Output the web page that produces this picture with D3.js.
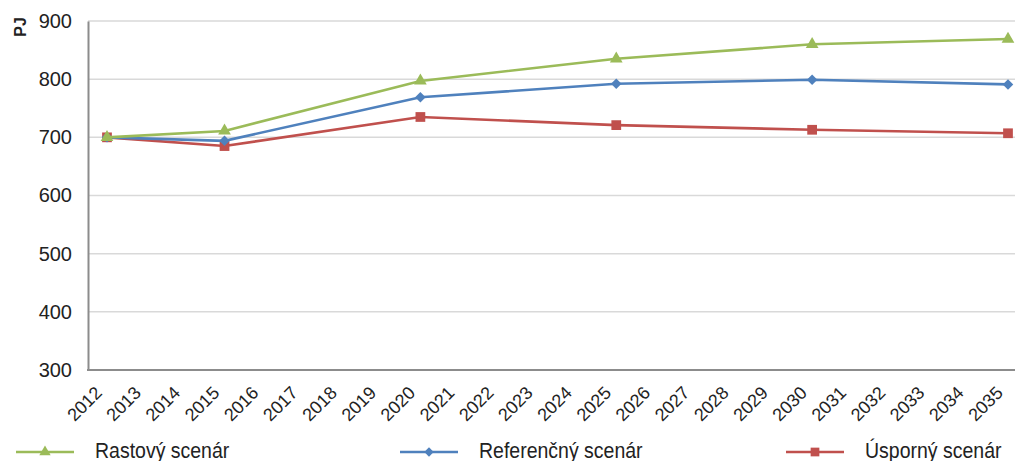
<!DOCTYPE html>
<html><head><meta charset="utf-8">
<script src="https://cdn.jsdelivr.net/npm/d3@7"></script>
<style>body{margin:0;background:#fff;}svg{display:block;font-family:"Liberation Sans",Arial,sans-serif;}</style>
</head><body>
<svg id="c" width="1015" height="461"></svg>
<script>
const years = d3.range(2012, 2036).map(String);
const yTicks = [300, 400, 500, 600, 700, 800, 900];
const dataYears = ["2012","2015","2020","2025","2030","2035"];
const rastovy = [700, 711, 797, 835, 860, 869];
const referencny = [700, 694, 769, 792, 799, 791];
const usporny = [700, 685, 735, 721, 713, 707];
const seriesNames = ["Rastový scenár", "Referenčný scenár", "Úsporný scenár"];
const colors = ["#9BBB59", "#4F81BD", "#C0504D"];
const symbols = [d3.symbolTriangle, d3.symbolSquare, d3.symbolSquare];
const symRot = [0, 45, 0];
const symSizes = [70, 55, 95];

const svg = d3.select("#c");
const mLeft = 88, mTop = 21, mBottom = 370, mRight = 1030;
const x = d3.scalePoint().domain(years).range([107, 1008]);
const y = d3.scaleLinear().domain([300, 900]).range([mBottom, mTop]);

// gridlines
svg.append("g").selectAll("line").data(yTicks.filter(d => d > 300)).join("line")
  .attr("x1", mLeft).attr("x2", mRight).attr("y1", d => y(d)).attr("y2", d => y(d))
  .attr("stroke", "#d9d9d9").attr("stroke-width", 1.5);

// axes
const yAxis = d3.axisLeft(y).tickValues(yTicks).tickSize(0).tickPadding(16);
const gy = svg.append("g").attr("transform", `translate(${mLeft},0)`).call(yAxis);
gy.select(".domain").attr("stroke", "#8c8c8c").attr("stroke-width", 2);
gy.selectAll("text").attr("font-size", 20).attr("fill", "#222").attr("font-family", "Liberation Sans, Arial, sans-serif");

const gx = svg.append("g").attr("transform", `translate(0,${mBottom})`);
gx.append("line").attr("x1", mLeft - 1).attr("x2", mRight).attr("stroke", "#8c8c8c").attr("stroke-width", 2);
gx.selectAll("text").data(years).join("text")
  .attr("transform", d => `translate(${x(d) - 4},${24}) rotate(-45)`)
  .attr("text-anchor", "end")
  .attr("font-size", 18).attr("fill", "#222").text(d => d);

// y title
svg.append("text").attr("transform", "translate(26,27) rotate(-90)")
  .attr("text-anchor", "middle").attr("font-weight", "bold").attr("font-size", 16)
  .attr("fill", "#222").text("PJ");

// series (drawn so green ends on top)
const allSeries = [rastovy, referencny, usporny];
const line = d3.line().x(d => x(d.year)).y(d => y(d.v));
[2, 1, 0].forEach(i => {
  const vals = allSeries[i];
  const pts = dataYears.map((yr, j) => ({year: yr, v: vals[j]}));
  const g = svg.append("g");
  g.append("path").datum(pts).attr("d", line).attr("fill", "none")
    .attr("stroke", colors[i]).attr("stroke-width", 2.6);
  g.selectAll("path.m").data(pts).join("path").attr("class", "m")
    .attr("transform", d => `translate(${x(d.year)},${y(d.v)}) rotate(${symRot[i]})`)
    .attr("d", d3.symbol().type(symbols[i]).size(symSizes[i]))
    .attr("fill", colors[i]);
});

// legend
const legX = [16, 400, 786];
const legend = svg.append("g").attr("transform", "translate(0,452)");
seriesNames.forEach((n, i) => {
  const g = legend.append("g").attr("transform", `translate(${legX[i]},0)`);
  g.append("line").attr("x1", 0).attr("x2", 58).attr("stroke", colors[i]).attr("stroke-width", 2.6);
  g.append("path").attr("transform", `translate(29,0) rotate(${symRot[i]})`)
    .attr("d", d3.symbol().type(symbols[i]).size(symSizes[i] * 0.8)).attr("fill", colors[i]);
  g.append("text").attr("transform", "translate(79,6) scale(1,1.12)")
    .attr("font-size", 19.5).attr("fill", "#222").text(n);
});
</script>
</body></html>
